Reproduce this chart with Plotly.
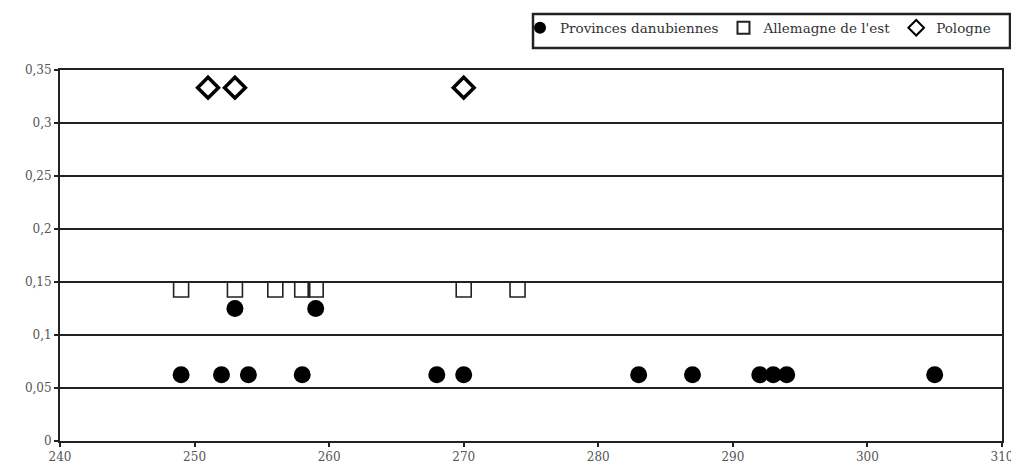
import plotly.graph_objects as go

# Data
prov_x = [249, 252, 254, 258, 268, 270, 283, 287, 292, 293, 294, 305, 253, 259]
prov_y = [1/16] * 12 + [1/8, 1/8]
allem_x = [249, 253, 256, 258, 259, 270, 274]
allem_y = [1/7] * 7
pol_x = [251, 253, 270]
pol_y = [1/3] * 3

y_ticks = [0, 0.05, 0.1, 0.15, 0.2, 0.25, 0.3, 0.35]
x_ticks = [240, 250, 260, 270, 280, 290, 300, 310]

FONT = "DejaVu Serif"

fig = go.Figure()
fig.add_trace(go.Scatter(
    x=prov_x, y=prov_y, mode="markers", name="Provinces danubiennes",
    marker=dict(symbol="circle", size=17, color="black", line=dict(width=0)),
))
fig.add_trace(go.Scatter(
    x=allem_x, y=allem_y, mode="markers", name="Allemagne de l'est",
    marker=dict(symbol="square-open", size=15, color="#222", line=dict(width=1.6, color="#222")),
))
fig.add_trace(go.Scatter(
    x=pol_x, y=pol_y, mode="markers", name="Pologne",
    marker=dict(symbol="diamond-open", size=16, color="black", line=dict(width=3.5, color="black")),
))

# legend frame (paper coords relative to plot area at page x 60..1002, y 70..441)
fig.add_shape(type="rect", xref="paper", yref="paper",
              x0=(533 - 60) / 942, x1=(1010 - 60) / 942,
              y0=(441 - 48) / 371, y1=(441 - 14) / 371,
              line=dict(color="#222", width=2.5), fillcolor="rgba(0,0,0,0)")

fig.update_layout(
    width=1011, height=464,
    margin=dict(l=52, r=17, t=62, b=31, autoexpand=False),
    paper_bgcolor="white", plot_bgcolor="white",
    separators=", ",
    font=dict(family=FONT, color="#222", size=12),
    showlegend=True,
    legend=dict(
        orientation="h", x=(520 - 60) / 942, xanchor="left",
        y=(441 - 28) / 371, yanchor="middle",
        font=dict(family=FONT, size=13.5, color="#333"),
        bgcolor="rgba(0,0,0,0)", borderwidth=0,
        itemwidth=30, itemsizing="constant",
    ),
    xaxis=dict(
        range=[240, 310], tickvals=x_ticks, showgrid=False, zeroline=False,
        showline=True, linecolor="#222", linewidth=2, mirror=True,
        ticks="outside", ticklen=4, tickcolor="#222", tickwidth=2,
        tickfont=dict(family=FONT, size=12, color="#555"),
    ),
    yaxis=dict(
        range=[0, 0.35], tickvals=y_ticks, showgrid=True, gridcolor="#222", gridwidth=2,
        zeroline=False, showline=True, linecolor="#222", linewidth=2, mirror=True,
        ticks="outside", ticklen=4, tickcolor="#222", tickwidth=2,
        tickfont=dict(family=FONT, size=12, color="#555"),
    ),
)

fig.write_html("out.html")
